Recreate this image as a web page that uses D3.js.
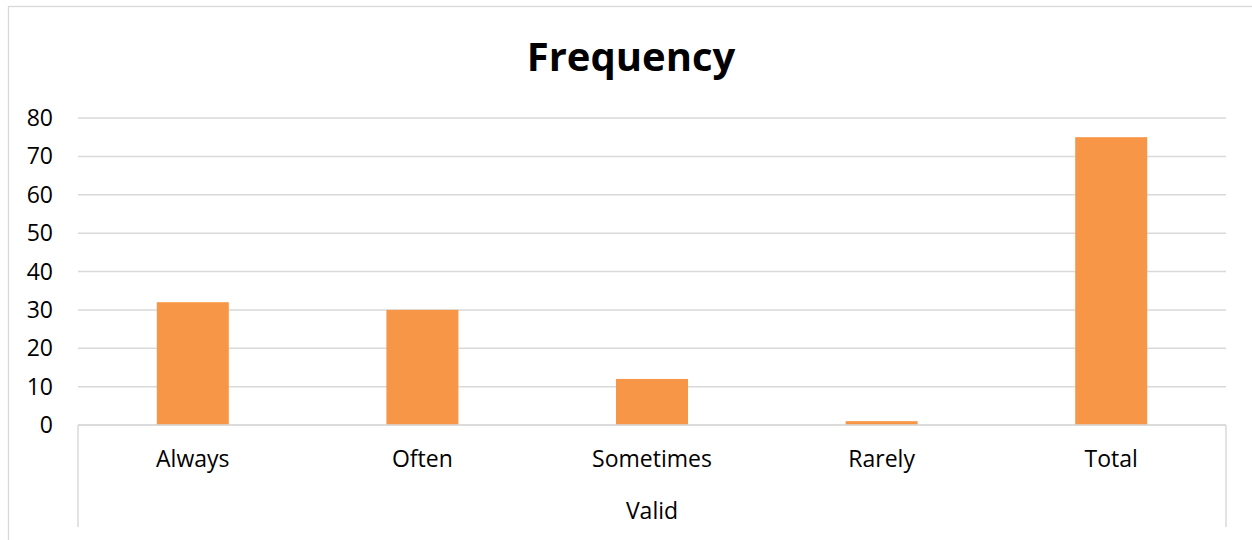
<!DOCTYPE html>
<html><head><meta charset="utf-8">
<script src="https://cdn.jsdelivr.net/npm/d3@7"></script>
<style>html,body{margin:0;padding:0;background:#fff;} svg{display:block;}</style>
</head><body>
<script>
const categories = ["Always", "Often", "Sometimes", "Rarely", "Total"];
const values = [32, 30, 12, 1, 75];
const yTicks = [0, 10, 20, 30, 40, 50, 60, 70, 80];
const groupLabel = "Valid";
const title = "Frequency";

(function () {
const W = 1252, H = 540;
const font = "'Open Sans', Lato, sans-serif";
const svg = d3.select("body").append("svg").attr("width", W).attr("height", H);

// chart frame
svg.append("rect").attr("x", 8.5).attr("y", 6.5).attr("width", 1260).attr("height", 560)
  .attr("fill", "#fff").attr("stroke", "#d9d9d9").attr("stroke-width", 1.3);

const pLeft = 78, pRight = 1226, pTop = 118, pBottom = 425;
const x = d3.scaleBand().domain(categories).range([pLeft, pRight])
  .paddingInner(0.6864).paddingOuter(0.3432);
const y = d3.scaleLinear().domain([0, 80]).range([pBottom, pTop]);

// gridlines
svg.append("g").selectAll("line").data(yTicks).join("line")
  .attr("x1", pLeft).attr("x2", pRight)
  .attr("y1", d => y(d)).attr("y2", d => y(d))
  .attr("stroke", "#d9d9d9").attr("stroke-width", 1.5);

// bars
svg.append("g").selectAll("rect").data(values).join("rect")
  .attr("x", (d, i) => x(categories[i]))
  .attr("width", x.bandwidth())
  .attr("y", d => y(d))
  .attr("height", d => y(0) - y(d))
  .attr("fill", "#f79646");

// axis baseline
svg.append("line").attr("x1", pLeft).attr("x2", pRight).attr("y1", y(0)).attr("y2", y(0))
  .attr("stroke", "#d9d9d9").attr("stroke-width", 1.5);
// group separators
[pLeft, pRight].forEach(xx => {
  svg.append("line").attr("x1", xx).attr("x2", xx).attr("y1", y(0)).attr("y2", 527)
    .attr("stroke", "#d9d9d9").attr("stroke-width", 1.5);
});

// y tick labels
svg.append("g").selectAll("text").data(yTicks).join("text")
  .attr("x", 53).attr("y", d => y(d)).attr("dy", "0.35em")
  .attr("text-anchor", "end").attr("font-family", font).attr("font-size", 23)
  .attr("fill", "#000").text(d => d);

// category labels
svg.append("g").selectAll("text").data(categories).join("text")
  .attr("x", d => x(d) + x.bandwidth() / 2).attr("y", 459).attr("dy", "0.35em")
  .attr("text-anchor", "middle").attr("font-family", font).attr("font-size", 23)
  .attr("fill", "#000").text(d => d);

svg.append("text").attr("x", (pLeft + pRight) / 2).attr("y", 511).attr("dy", "0.35em")
  .attr("text-anchor", "middle").attr("font-family", font).attr("font-size", 23)
  .attr("fill", "#000").text(groupLabel);

svg.append("text").attr("x", 631).attr("y", 57).attr("dy", "0.35em")
  .attr("text-anchor", "middle").attr("font-family", font).attr("font-size", 40)
  .attr("font-weight", "bold").attr("fill", "#000").text(title);
})();
</script>
</body></html>
